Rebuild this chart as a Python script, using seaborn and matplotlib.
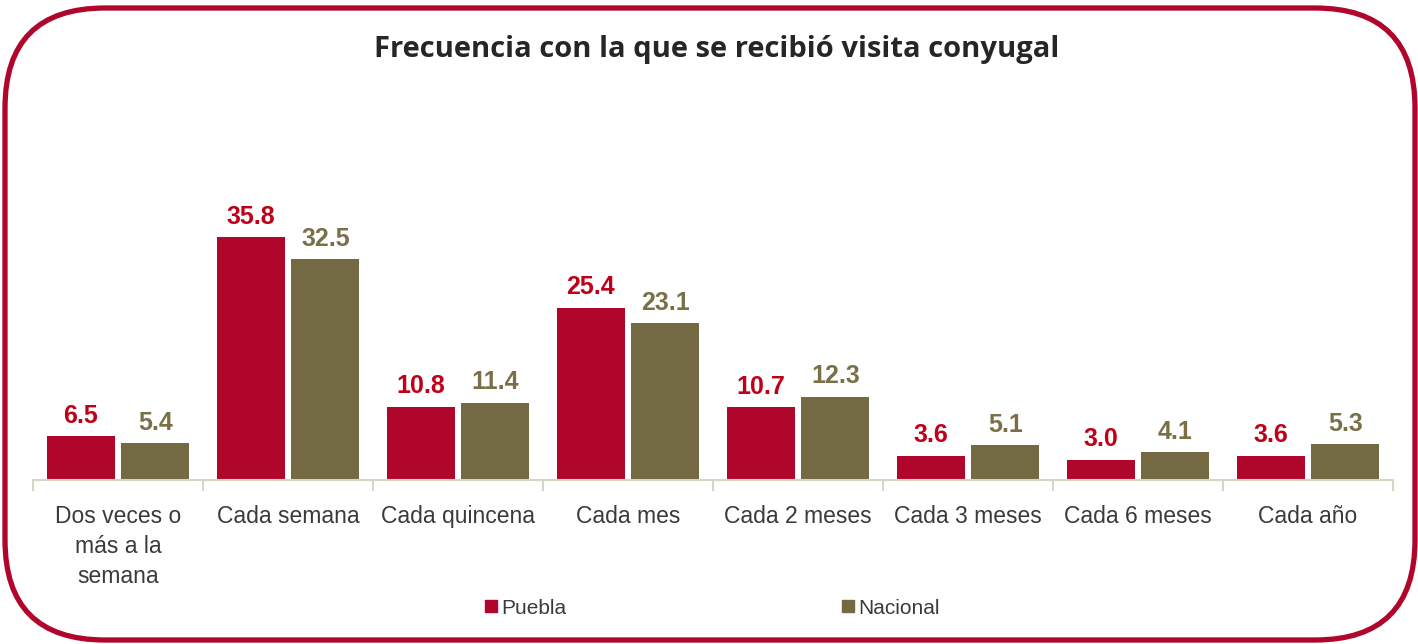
import matplotlib
matplotlib.use("Agg")
import matplotlib.pyplot as plt
from matplotlib.patches import FancyBboxPatch
from matplotlib.lines import Line2D
import seaborn as sns
import pandas as pd

categories = ["Dos veces o\nmás a la\nsemana", "Cada semana", "Cada quincena", "Cada mes",
              "Cada 2 meses", "Cada 3 meses", "Cada 6 meses", "Cada año"]
puebla = [6.5, 35.8, 10.8, 25.4, 10.7, 3.6, 3.0, 3.6]
nacional = [5.4, 32.5, 11.4, 23.1, 12.3, 5.1, 4.1, 5.3]
series = ["Puebla", "Nacional"]
title = "Frecuencia con la que se recibió visita conyugal"

bar_colors = {"Puebla": "#B0062C", "Nacional": "#736A43"}
label_colors = {"Puebla": "#C00018", "Nacional": "#7A7048"}

df = pd.DataFrame({
    "categoria": categories * 2,
    "valor": puebla + nacional,
    "serie": [series[0]] * len(categories) + [series[1]] * len(categories),
})

sns.set_theme(style="white")
plt.rcParams["font.family"] = ["Liberation Sans", "DejaVu Sans"]

W, H, DPI = 1418, 644, 100
fig = plt.figure(figsize=(W / DPI, H / DPI), dpi=DPI)

# axes placed in pixel terms: left 33, right 1393, baseline at y=480
ymax = 40
px_per_unit = 243 / 35.8
ax_h = ymax * px_per_unit
ax = fig.add_axes([33 / W, (H - 480) / H, 1360 / W, ax_h / H])

sns.barplot(data=df, x="categoria", y="valor", hue="serie", order=categories,
            hue_order=series, palette=bar_colors, width=0.88, gap=0.093,
            saturation=1, ax=ax, legend=False, edgecolor="none")

ax.set_xlim(-0.5, len(categories) - 0.5)
ax.set_ylim(0, ymax)
ax.set_xlabel("")
ax.set_ylabel("")
ax.set_yticks([])
for s in ["top", "right", "left"]:
    ax.spines[s].set_visible(False)
ax.spines["bottom"].set_color("#D8D5C8")
ax.spines["bottom"].set_linewidth(1.5)

ax.set_xticks(range(len(categories)))
ax.set_xticklabels(categories, fontsize=16.5, color="#3A3A3A", linespacing=1.4)
ax.tick_params(axis="x", which="major", length=0, pad=18)
ax.set_xticks([i - 0.5 for i in range(len(categories) + 1)], minor=True)
ax.tick_params(axis="x", which="minor", length=8, width=1.5, color="#D8D5C8", bottom=True)

for cont, name in zip(ax.containers, series):
    ax.bar_label(cont, fmt="%.1f", padding=6, fontsize=18, fontweight="bold",
                 color=label_colors[name],
                 family=["Liberation Sans Narrow", "Liberation Sans", "DejaVu Sans"])

fig.text(717 / W, 1 - 50 / H, title, ha="center", va="center", fontsize=21,
         fontweight="bold", color="#262626", family=["Open Sans", "DejaVu Sans"])

handles = [Line2D([], [], marker="s", linestyle="none", markersize=8,
                  markerfacecolor=bar_colors[s], markeredgecolor=bar_colors[s]) for s in series]
fig.legend(handles, series, loc="center", bbox_to_anchor=(712 / W, 1 - 608 / H),
           ncol=2, frameon=False, fontsize=15, handlelength=0.6, handletextpad=0.2,
           columnspacing=13.2, labelcolor="#3A3A3A")

# rounded frame around the whole chart
frame = FancyBboxPatch((5 / DPI, 4 / DPI), 1410 / DPI, 632 / DPI,
                       boxstyle="round,pad=0,rounding_size=1.0",
                       transform=fig.dpi_scale_trans, facecolor="none",
                       edgecolor="#B0062C", linewidth=3.8)
fig.patches.append(frame)

fig.savefig("out.png", dpi=DPI)
